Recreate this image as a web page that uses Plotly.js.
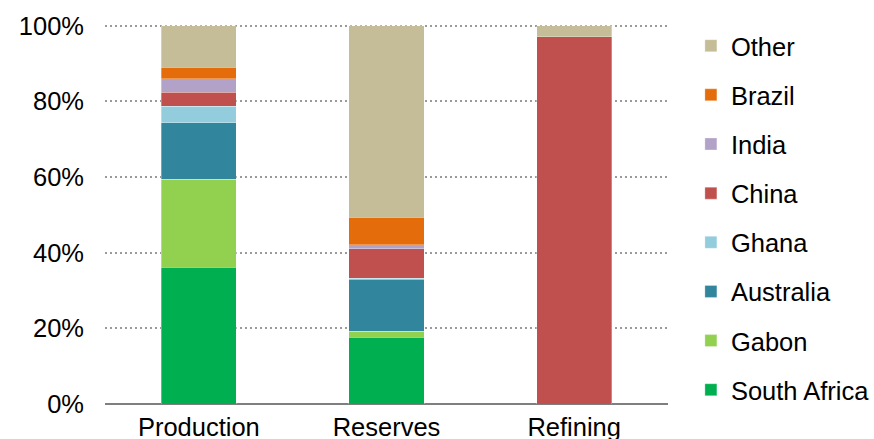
<!DOCTYPE html>
<html><head><meta charset="utf-8">
<script src="https://cdn.plot.ly/plotly-3.0.1.min.js"></script>
<style>html,body{margin:0;padding:0;background:#fff}#chart{width:874px;height:439px}</style>
</head><body><div id="chart"></div>
<script>
const categories = ["Production", "Reserves", "Refining"];
const southAfrica = [36.2, 17.6, 0];
const gabon = [23.2, 1.7, 0];
const australia = [15.0, 13.7, 0];
const ghana = [4.3, 0.3, 0];
const china = [3.7, 7.7, 97.1];
const india = [3.6, 1.1, 0];
const brazil = [3.1, 7.3, 0];
const other = [10.9, 50.6, 2.9];

const seriesNames = ["South Africa", "Gabon", "Australia", "Ghana", "China", "India", "Brazil", "Other"];
const seriesValues = [southAfrica, gabon, australia, ghana, china, india, brazil, other];
const colors = ["#00B050", "#92D050", "#31859C", "#93CDDD", "#C0504D", "#B3A2C7", "#E46C0A", "#C4BD97"];

const traces = seriesNames.map((n, i) => ({
  type: "bar", name: n, x: categories, y: seriesValues[i],
  marker: {color: colors[i], line: {color: "rgba(255,255,255,0.6)", width: 0.5}},
  legendgroup: "g" + i, legendrank: seriesNames.length - i, hoverinfo: "name+y"
}));

const font = {family: "Liberation Sans, Arial, sans-serif", size: 25.5, color: "#000"};
const layout = {
  width: 874, height: 439,
  margin: {l: 105, r: 206, t: 22, b: 35, autoexpand: false},
  barmode: "stack", bargap: 0.6,
  font: font,
  paper_bgcolor: "#fff", plot_bgcolor: "#fff",
  xaxis: {tickfont: font, showgrid: false, showline: false, ticks: "", ticklabelstandoff: 5, fixedrange: true, automargin: false},
  yaxis: {range: [0, 101], tickvals: [0, 20, 40, 60, 80, 100], ticktext: ["0%", "20%", "40%", "60%", "80%", "100%"],
          showgrid: true, gridcolor: "#9a9a9a", griddash: "2px,3px", gridwidth: 2,
          zeroline: true, zerolinecolor: "#7f7f7f", zerolinewidth: 2,
          ticks: "", ticklen: 0, ticklabelstandoff: 20, tickfont: font, automargin: false},
  legend: {xref: "container", yref: "container", x: 0.7905, xanchor: "left", y: 0.9485, yanchor: "top", traceorder: "grouped",
           tracegroupgap: 13, font: font, itemwidth: 30, maxheight: 1, bgcolor: "rgba(0,0,0,0)"},
  showlegend: true
};
Plotly.newPlot("chart", traces, layout, {displayModeBar: false, staticPlot: true});
</script></body></html>
